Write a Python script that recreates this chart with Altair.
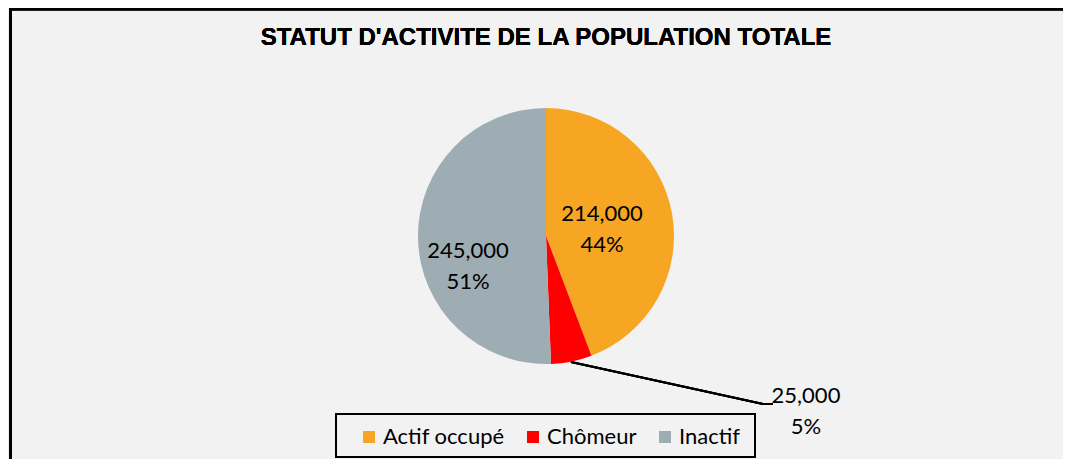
import altair as alt
import pandas as pd

categories = ["Actif occupé", "Chômeur", "Inactif"]
values = [214000, 25000, 245000]
percents = ["44%", "5%", "51%"]
colors = ["#F6A623", "#FF0000", "#9EADB3"]
title_text = "STATUT D'ACTIVITE DE LA POPULATION TOTALE"

df = pd.DataFrame({
    "cat": categories,
    "val": values,
    "idx": list(range(len(categories))),
    "label": [f"{v:,}\n{p}" for v, p in zip(values, percents)],
})

CX, CY, R = 538, 228, 128
label_font = "Lato"

theta = alt.Theta("val:Q", stack=True)
order = alt.Order("idx:Q")
color = alt.Color(
    "cat:N",
    scale=alt.Scale(domain=categories, range=colors),
    sort=categories,
    legend=alt.Legend(
        title=None, orient="none", direction="horizontal", columns=3,
        legendX=350, legendY=418, symbolType="square", symbolSize=144,
        symbolStrokeWidth=0, labelFont=label_font, labelFontSize=22,
        labelColor="#000000", labelOffset=3, columnPadding=17, padding=0,
        symbolOpacity=1,
    ),
)

base = alt.Chart(df)

pie = base.mark_arc(outerRadius=R, strokeWidth=0).encode(
    theta=theta, order=order, color=color,
    x=alt.value(CX), y=alt.value(CY),
)

def slice_label(i, radius, dx, dy):
    return base.mark_text(
        radius=radius, dx=dx, dy=dy, font=label_font, fontSize=22,
        lineBreak="\n", lineHeight=31, color="#000000", align="center",
        baseline="middle",
    ).encode(
        theta=theta, order=order,
        text=alt.condition(alt.datum.idx == i, "label:N", alt.value("")),
        x=alt.value(CX), y=alt.value(CY),
    )

lab_actif = slice_label(0, 57, 0, -12)
lab_chom = slice_label(1, 130, 234, 33)
lab_inact = slice_label(2, 78, 0, 13)

leader1 = base.mark_rule(color="#000000", strokeWidth=2).encode(
    x=alt.value(563), y=alt.value(354), x2=alt.value(755), y2=alt.value(396))
leader2 = base.mark_rule(color="#000000", strokeWidth=2).encode(
    x=alt.value(754), y=alt.value(396), x2=alt.value(765), y2=alt.value(396))

title = base.mark_text(
    font="Liberation Sans", fontSize=24, fontWeight="bold", color="#000000",
    align="center", baseline="alphabetic",
).encode(x=alt.value(538), y=alt.value(37), text=alt.value(title_text))

legend_box = base.mark_rect(fill="#F2F2F2", stroke="#000000", strokeWidth=2).encode(
    x=alt.value(328), x2=alt.value(747), y=alt.value(406), y2=alt.value(449))

frame_top = base.mark_rule(color="#000000", strokeWidth=3).encode(
    x=alt.value(1), x2=alt.value(1060), y=alt.value(1), y2=alt.value(1))
frame_left = base.mark_rule(color="#000000", strokeWidth=3).encode(
    x=alt.value(2.5), x2=alt.value(2.5), y=alt.value(0), y2=alt.value(470))

chart = alt.layer(
    frame_top, frame_left, title, legend_box, pie, leader1, leader2,
    lab_actif, lab_chom, lab_inact
).properties(
    width=1055, height=451, autosize=alt.AutoSizeParams(type="none"),
    padding=0, background="#F2F2F2",
).configure_view(strokeWidth=0, stroke="transparent")

chart.save("out.html", embed_options={"renderer": "svg", "actions": False})
